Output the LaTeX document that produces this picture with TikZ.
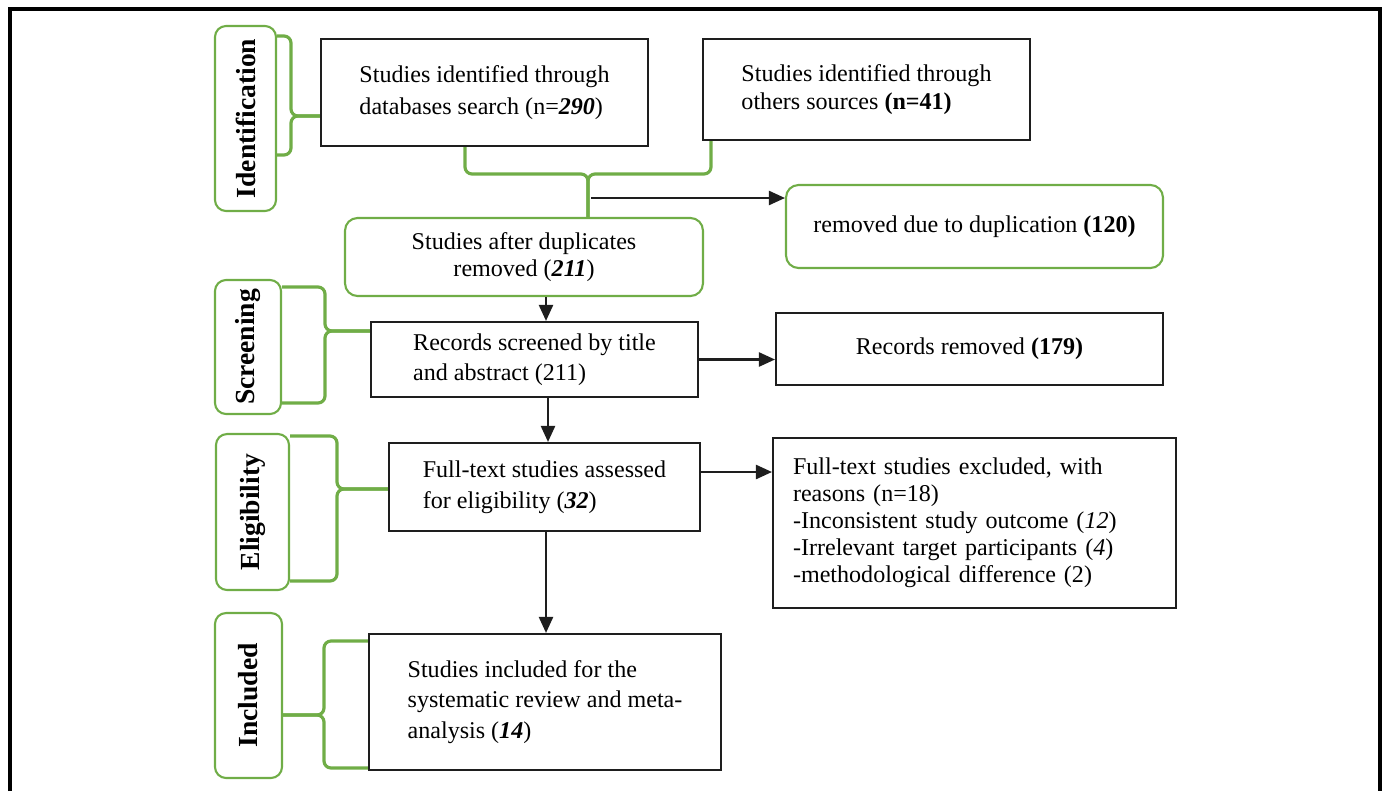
\documentclass[tikz,border=0pt]{standalone}
\usepackage{fontspec}
\setmainfont{Liberation Serif}
\usepackage{graphicx}
\usetikzlibrary{positioning,arrows.meta,calc}
\definecolor{phgreen}{RGB}{112,173,71}
\definecolor{boxblack}{RGB}{30,30,30}

\begin{document}
\begin{tikzpicture}[
  x=0.02cm, y=-0.02cm,
  every node/.style={font=\fontsize{13.7}{17.5}\selectfont, text=black},
  %% Node styles
  phnode/.style={
    draw=phgreen, line width=1.2pt, rounded corners=0.22cm,
    inner sep=0pt, font=\bfseries\fontsize{15.7}{18}\selectfont,
  },
  bxnode/.style={
    draw=boxblack, line width=1.2pt, inner sep=0pt, align=left,
  },
  gbnode/.style={
    draw=phgreen, line width=1.2pt, rounded corners=0.25cm,
    inner sep=0pt, align=center,
  },
  %% Edge styles
  brc/.style={draw=phgreen, line width=1.8pt, rounded corners=0.14cm},
  arr/.style={draw=boxblack, line width=1.3pt,
    -{Triangle[length=0.32cm,width=0.28cm]}},
]
\useasboundingbox (0,0) rectangle (1382,791);

%% =============================================================
%%  Outer frame (open at the bottom)
%% =============================================================
\draw[line width=2.1pt] (10,791) |- (1380,9) -- (1380,791);

%% =============================================================
%%  Phase labels
%% =============================================================
\node[phnode, minimum width=1.22cm, minimum height=3.7cm]
    (idlab) at (245.5,118.5) {\rotatebox{90}{Identification}};
\node[phnode, minimum width=1.32cm, minimum height=2.68cm]
    (sclab) at (248,347) {\rotatebox{90}{Screening}};
\node[phnode, minimum width=1.46cm, minimum height=3.12cm]
    (ellab) at (252.5,512) {\rotatebox{90}{Eligibility}};
\node[phnode, minimum width=1.34cm, minimum height=3.3cm]
    (inlab) at (248.5,695.5) {\rotatebox{90}{Included}};

%% =============================================================
%%  Flow boxes
%% =============================================================
\node[bxnode, minimum width=6.54cm, minimum height=2.14cm,
      font=\fontsize{13.7}{18}\selectfont]
    (dbs) at (484.5,92.5)
    {Studies identified through\\databases search (n=\textbf{\textit{290}})};
\node[bxnode, minimum width=6.54cm, minimum height=2.02cm,
      font=\fontsize{13.7}{16}\selectfont]
    (oth) at (866.5,89.5)
    {Studies identified through\\others sources \textbf{(n=41)}};

\node[gbnode, minimum width=7.16cm, minimum height=1.56cm,
      font=\fontsize{13.7}{15}\selectfont]
    (afterdup) at (524,257)
    {Studies after duplicates\\removed (\textbf{\textit{211}})};
\node[gbnode, minimum width=7.54cm, minimum height=1.66cm]
    (duprem) at (974.5,226.5)
    {removed due to duplication \textbf{(120)}};

\node[bxnode, minimum width=6.54cm, minimum height=1.5cm,
      font=\fontsize{13.7}{17}\selectfont]
    (screened) at (534.5,359.5)
    {Records screened by title\\and abstract (211)};
\node[bxnode, minimum width=7.74cm, minimum height=1.44cm]
    (recrem) at (969.5,349) {Records removed \textbf{(179)}};

\node[bxnode, minimum width=6.22cm, minimum height=1.76cm]
    (fulltext) at (544.5,487)
    {Full-text studies assessed\\for eligibility (\textbf{\textit{32}})};
\node[bxnode, minimum width=8.06cm, minimum height=3.4cm,
      text width=7.26cm, font=\fontsize{13.7}{15.3}\selectfont]
    (excluded) at (974.5,523)
    {Full-text studies excluded, with\\reasons (n=18)\\
     -Inconsistent study outcome (\textit{12})\\
     -Irrelevant target participants (\textit{4})\\
     -methodological difference (2)};

\node[bxnode, minimum width=7.04cm, minimum height=2.72cm]
    (incl) at (545,702)
    {Studies included for the\\systematic review and meta-\\
     analysis (\textbf{\textit{14}})};

%% =============================================================
%%  Braces
%% =============================================================
\draw[brc] (idlab.east |- 0,36) -| (291,116) -- (dbs.west |- 0,116);
\draw[brc] (idlab.east |- 0,155) -| (291,116) -- (dbs.west |- 0,116);

%% merge of both sources
\coordinate (mrg) at (588,174);
\draw[brc] (dbs.south -| 465,0) |- (mrg) -- (afterdup.north -| mrg);
\draw[brc] (oth.south -| 711,0) |- (mrg) -- (afterdup.north -| mrg);

\draw[brc] (sclab.east |- 0,287) -| (325,331) -- (screened.west |- 0,331);
\draw[brc] (sclab.east |- 0,403) -| (325,331) -- (screened.west |- 0,331);

\draw[brc] (ellab.east |- 0,436) -| (337,489) -- (fulltext.west |- 0,489);
\draw[brc] (ellab.east |- 0,581) -| (337,489) -- (fulltext.west |- 0,489);

\draw[brc] (incl.west |- 0,641) -| (324,715) -- (inlab.east |- 0,715);
\draw[brc] (incl.west |- 0,768) -| (324,715) -- (inlab.east |- 0,715);

%% =============================================================
%%  Arrows
%% =============================================================
\coordinate (dupsplit) at (591,198);
\draw[arr] (dupsplit) -- (dupsplit -| duprem.west);

\draw[arr] (afterdup.south -| 546,0) -- (screened.north -| 546,0);
\draw[arr] (screened.south -| 548,0) -- (fulltext.north -| 548,0);
\draw[arr] (fulltext.south -| 546,0) -- (incl.north -| 546,0);

\draw[arr] (screened.east) -- (screened.east -| recrem.west);
\draw[arr] (fulltext.east |- 0,472) -- (excluded.west |- 0,472);

\end{tikzpicture}
\end{document}
